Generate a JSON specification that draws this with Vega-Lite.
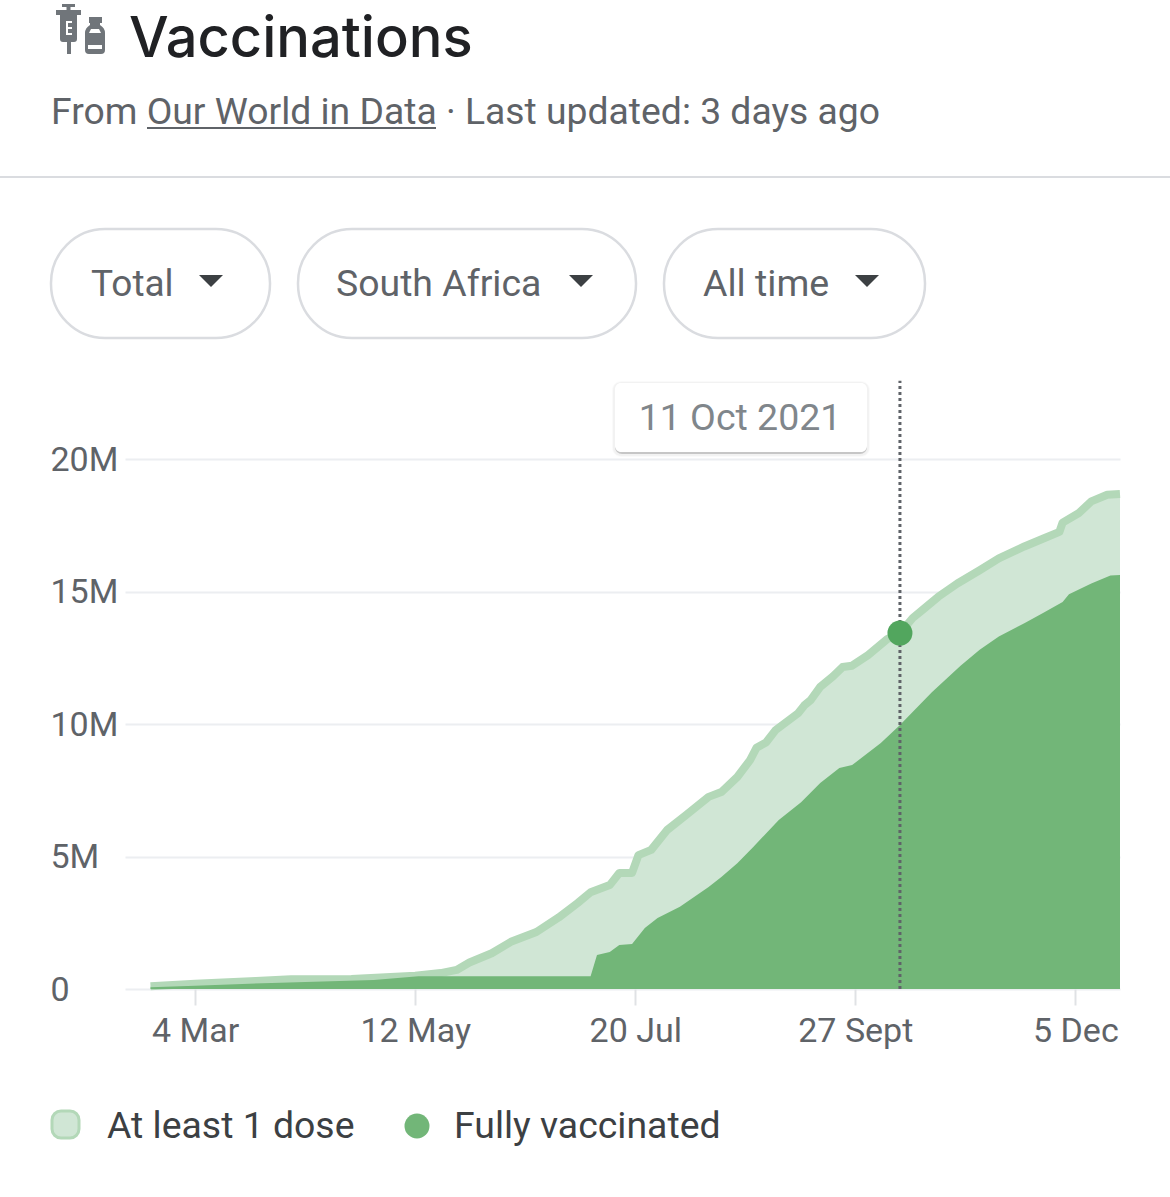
{
  "$schema": "https://vega.github.io/schema/vega-lite/v6.json",
  "width": 995,
  "height": 530,
  "autosize": "none",
  "padding": {"left": 125, "top": 459, "right": 50, "bottom": 208},
  "background": "#ffffff",
  "config": {"view": {"stroke": null}, "text": {"font": "Roboto"}},
  "datasets": {
    "vacc": [
      {"date": "2021-02-18", "series": "At least 1 dose", "people": 100000},
      {"date": "2021-03-04", "series": "At least 1 dose", "people": 200000},
      {"date": "2021-03-23", "series": "At least 1 dose", "people": 300000},
      {"date": "2021-04-03", "series": "At least 1 dose", "people": 370000},
      {"date": "2021-04-22", "series": "At least 1 dose", "people": 380000},
      {"date": "2021-05-12", "series": "At least 1 dose", "people": 500000},
      {"date": "2021-05-20", "series": "At least 1 dose", "people": 600000},
      {"date": "2021-05-25", "series": "At least 1 dose", "people": 720000},
      {"date": "2021-05-29", "series": "At least 1 dose", "people": 1000000},
      {"date": "2021-06-05", "series": "At least 1 dose", "people": 1350000},
      {"date": "2021-06-11", "series": "At least 1 dose", "people": 1780000},
      {"date": "2021-06-19", "series": "At least 1 dose", "people": 2150000},
      {"date": "2021-06-26", "series": "At least 1 dose", "people": 2700000},
      {"date": "2021-07-02", "series": "At least 1 dose", "people": 3250000},
      {"date": "2021-07-06", "series": "At least 1 dose", "people": 3650000},
      {"date": "2021-07-12", "series": "At least 1 dose", "people": 3920000},
      {"date": "2021-07-15", "series": "At least 1 dose", "people": 4380000},
      {"date": "2021-07-19", "series": "At least 1 dose", "people": 4380000},
      {"date": "2021-07-21", "series": "At least 1 dose", "people": 5050000},
      {"date": "2021-07-25", "series": "At least 1 dose", "people": 5250000},
      {"date": "2021-07-30", "series": "At least 1 dose", "people": 6000000},
      {"date": "2021-08-05", "series": "At least 1 dose", "people": 6570000},
      {"date": "2021-08-12", "series": "At least 1 dose", "people": 7250000},
      {"date": "2021-08-16", "series": "At least 1 dose", "people": 7430000},
      {"date": "2021-08-21", "series": "At least 1 dose", "people": 8000000},
      {"date": "2021-08-25", "series": "At least 1 dose", "people": 8640000},
      {"date": "2021-08-27", "series": "At least 1 dose", "people": 9100000},
      {"date": "2021-08-30", "series": "At least 1 dose", "people": 9300000},
      {"date": "2021-09-02", "series": "At least 1 dose", "people": 9770000},
      {"date": "2021-09-09", "series": "At least 1 dose", "people": 10400000},
      {"date": "2021-09-11", "series": "At least 1 dose", "people": 10700000},
      {"date": "2021-09-13", "series": "At least 1 dose", "people": 10900000},
      {"date": "2021-09-16", "series": "At least 1 dose", "people": 11400000},
      {"date": "2021-09-20", "series": "At least 1 dose", "people": 11800000},
      {"date": "2021-09-23", "series": "At least 1 dose", "people": 12150000},
      {"date": "2021-09-26", "series": "At least 1 dose", "people": 12200000},
      {"date": "2021-10-01", "series": "At least 1 dose", "people": 12600000},
      {"date": "2021-10-07", "series": "At least 1 dose", "people": 13200000},
      {"date": "2021-10-11", "series": "At least 1 dose", "people": 13430000},
      {"date": "2021-10-15", "series": "At least 1 dose", "people": 14000000},
      {"date": "2021-10-18", "series": "At least 1 dose", "people": 14300000},
      {"date": "2021-10-23", "series": "At least 1 dose", "people": 14800000},
      {"date": "2021-10-29", "series": "At least 1 dose", "people": 15300000},
      {"date": "2021-11-05", "series": "At least 1 dose", "people": 15800000},
      {"date": "2021-11-11", "series": "At least 1 dose", "people": 16250000},
      {"date": "2021-11-19", "series": "At least 1 dose", "people": 16700000},
      {"date": "2021-11-25", "series": "At least 1 dose", "people": 17000000},
      {"date": "2021-11-30", "series": "At least 1 dose", "people": 17250000},
      {"date": "2021-12-01", "series": "At least 1 dose", "people": 17600000},
      {"date": "2021-12-06", "series": "At least 1 dose", "people": 17950000},
      {"date": "2021-12-10", "series": "At least 1 dose", "people": 18400000},
      {"date": "2021-12-15", "series": "At least 1 dose", "people": 18650000},
      {"date": "2021-12-19", "series": "At least 1 dose", "people": 18680000},
      {"date": "2021-02-18", "series": "Fully vaccinated", "people": 70000},
      {"date": "2021-03-04", "series": "Fully vaccinated", "people": 120000},
      {"date": "2021-03-28", "series": "Fully vaccinated", "people": 230000},
      {"date": "2021-04-29", "series": "Fully vaccinated", "people": 340000},
      {"date": "2021-05-13", "series": "Fully vaccinated", "people": 480000},
      {"date": "2021-07-06", "series": "Fully vaccinated", "people": 480000},
      {"date": "2021-07-08", "series": "Fully vaccinated", "people": 1280000},
      {"date": "2021-07-12", "series": "Fully vaccinated", "people": 1400000},
      {"date": "2021-07-15", "series": "Fully vaccinated", "people": 1660000},
      {"date": "2021-07-19", "series": "Fully vaccinated", "people": 1700000},
      {"date": "2021-07-23", "series": "Fully vaccinated", "people": 2300000},
      {"date": "2021-07-27", "series": "Fully vaccinated", "people": 2680000},
      {"date": "2021-08-03", "series": "Fully vaccinated", "people": 3100000},
      {"date": "2021-08-12", "series": "Fully vaccinated", "people": 3850000},
      {"date": "2021-08-16", "series": "Fully vaccinated", "people": 4230000},
      {"date": "2021-08-21", "series": "Fully vaccinated", "people": 4750000},
      {"date": "2021-08-26", "series": "Fully vaccinated", "people": 5360000},
      {"date": "2021-09-03", "series": "Fully vaccinated", "people": 6380000},
      {"date": "2021-09-10", "series": "Fully vaccinated", "people": 7050000},
      {"date": "2021-09-16", "series": "Fully vaccinated", "people": 7770000},
      {"date": "2021-09-22", "series": "Fully vaccinated", "people": 8340000},
      {"date": "2021-09-26", "series": "Fully vaccinated", "people": 8450000},
      {"date": "2021-10-05", "series": "Fully vaccinated", "people": 9280000},
      {"date": "2021-10-11", "series": "Fully vaccinated", "people": 9960000},
      {"date": "2021-10-21", "series": "Fully vaccinated", "people": 11200000},
      {"date": "2021-10-30", "series": "Fully vaccinated", "people": 12200000},
      {"date": "2021-11-05", "series": "Fully vaccinated", "people": 12800000},
      {"date": "2021-11-11", "series": "Fully vaccinated", "people": 13300000},
      {"date": "2021-11-19", "series": "Fully vaccinated", "people": 13800000},
      {"date": "2021-11-25", "series": "Fully vaccinated", "people": 14200000},
      {"date": "2021-12-01", "series": "Fully vaccinated", "people": 14600000},
      {"date": "2021-12-03", "series": "Fully vaccinated", "people": 14900000},
      {"date": "2021-12-10", "series": "Fully vaccinated", "people": 15300000},
      {"date": "2021-12-16", "series": "Fully vaccinated", "people": 15600000},
      {"date": "2021-12-19", "series": "Fully vaccinated", "people": 15620000}
    ]
  },
  "layer": [
    {
      "data": {"name": "vacc"},
      "transform": [{"filter": "datum.series == 'At least 1 dose'"}],
      "mark": {"type": "area", "color": "#d0e6d5"},
      "encoding": {
        "x": {
          "field": "date",
          "type": "temporal",
          "title": null,
          "scale": {"type": "utc", "domain": ["2021-02-10", "2021-12-19"]},
          "axis": {
            "values": [
              {"year": 2021, "month": 3, "date": 4, "utc": true},
              {"year": 2021, "month": 5, "date": 12, "utc": true},
              {"year": 2021, "month": 7, "date": 20, "utc": true},
              {"year": 2021, "month": 9, "date": 27, "utc": true},
              {"year": 2021, "month": 12, "date": 5, "utc": true}
            ],
            "labelExpr": "replace(utcFormat(datum.value, '%-d %b'), 'Sep', 'Sept')",
            "domain": false,
            "grid": false,
            "ticks": true,
            "tickSize": 16,
            "tickWidth": 2,
            "tickColor": "#e0e2e5",
            "labelFont": "Roboto",
            "labelFontSize": 34,
            "labelColor": "#5f6368",
            "labelPadding": 9,
            "labelOverlap": false,
            "labelFlush": false
          }
        },
        "y": {
          "field": "people",
          "type": "quantitative",
          "title": null,
          "scale": {"domain": [0, 20000000], "nice": false},
          "axis": {
            "values": [0, 5000000, 10000000, 15000000, 20000000],
            "labelExpr": "datum.value == 0 ? '0' : datum.value / 1000000 + 'M'",
            "domain": false,
            "ticks": false,
            "grid": true,
            "gridColor": "#eceef1",
            "gridWidth": 2,
            "labelAlign": "left",
            "labelPadding": 75,
            "labelOffset": 1,
            "labelFont": "Roboto",
            "labelFontSize": 34,
            "labelColor": "#5f6368"
          }
        }
      }
    },
    {
      "data": {"name": "vacc"},
      "transform": [{"filter": "datum.series == 'At least 1 dose'"}],
      "mark": {"type": "line", "color": "#b3d8b8", "strokeWidth": 8, "strokeJoin": "round"},
      "encoding": {
        "x": {"field": "date", "type": "temporal"},
        "y": {"field": "people", "type": "quantitative"}
      }
    },
    {
      "data": {"name": "vacc"},
      "transform": [{"filter": "datum.series == 'Fully vaccinated'"}],
      "mark": {"type": "area", "color": "#72b678"},
      "encoding": {
        "x": {"field": "date", "type": "temporal"},
        "y": {"field": "people", "type": "quantitative"}
      }
    },
    {
      "data": {"values": [{"date": "2021-10-11", "base": 0, "top": 22950000}]},
      "mark": {"type": "rule", "color": "#5f6368", "strokeWidth": 3, "strokeDash": [3, 3]},
      "encoding": {
        "x": {"field": "date", "type": "temporal"},
        "y": {"field": "base", "type": "quantitative"},
        "y2": {"field": "top"}
      }
    },
    {
      "data": {"values": [{"date": "2021-10-11", "people": 13430000}]},
      "mark": {"type": "circle", "size": 625, "color": "#52a65e", "opacity": 1},
      "encoding": {
        "x": {"field": "date", "type": "temporal"},
        "y": {"field": "people", "type": "quantitative"}
      }
    },
    {
      "data": {"values": [{"label": "shadow"}]},
      "mark": {"type": "rect", "x": 487, "x2": 745, "y": -78, "y2": -2, "cornerRadius": 9, "color": "#000000", "opacity": 0.02}
    },
    {
      "data": {"values": [{"label": "shadow"}]},
      "mark": {"type": "rect", "x": 488, "x2": 744, "y": -77, "y2": -3, "cornerRadius": 8, "color": "#000000", "opacity": 0.03}
    },
    {
      "data": {"values": [{"label": "shadow"}]},
      "mark": {"type": "rect", "x": 490, "x2": 742, "y": -70, "y2": -5, "cornerRadius": 7, "color": "#000000", "opacity": 0.18}
    },
    {
      "data": {"values": [{"label": "tooltip"}]},
      "mark": {"type": "rect", "x": 490, "x2": 742, "y": -76, "y2": -7, "cornerRadius": 6, "color": "#ffffff"}
    },
    {
      "data": {"values": [{"label": "11 Oct 2021"}]},
      "mark": {"type": "text", "x": 615, "y": -40, "align": "center", "baseline": "middle", "fontSize": 37.5, "color": "#80868b"},
      "encoding": {"text": {"field": "label"}}
    },
    {
      "data": {"values": [{"label": "icon"}]},
      "mark": {"type": "point", "x": -125, "y": -459, "size": 4, "filled": true, "opacity": 1, "color": "#70757a", "shape": "M62 4H75V7H70.5V10H81V15H77V39Q77 42 74 42H71V54H67V42H63Q60 42 60 39V15H56V10H66.5V7H62ZM89 17H102V23H100V25Q105 28 105 33V50Q105 54 101 54H89Q85 54 85 50V33Q85 28 90 25V23H89Z"}
    },
    {
      "data": {"values": [{"label": "icon cut-outs"}]},
      "mark": {"type": "point", "x": -125, "y": -459, "size": 4, "filled": true, "opacity": 1, "color": "#ffffff", "shape": "M66 21H72V23H68V27H72V29H68V33H72V35H66ZM91 29H99L101 33H89ZM88 45H102V49H88Z"}
    },
    {
      "data": {"values": [{"label": "Vaccinations"}]},
      "mark": {"type": "text", "x": 4, "y": -419, "align": "left", "baseline": "middle", "fontSize": 56, "fontWeight": 500, "font": "Inter", "color": "#202124"},
      "encoding": {"text": {"field": "label"}}
    },
    {
      "data": {"values": [{"label": "From Our World in Data · Last updated: 3 days ago"}]},
      "mark": {"type": "text", "x": -74, "y": -346, "align": "left", "baseline": "middle", "fontSize": 37.3, "color": "#5f6368"},
      "encoding": {"text": {"field": "label"}}
    },
    {
      "data": {"values": [{"label": "link underline"}]},
      "mark": {"type": "rule", "color": "#5f6368", "strokeWidth": 2},
      "encoding": {"x": {"value": 22}, "x2": {"value": 311}, "y": {"value": -331}}
    },
    {
      "data": {"values": [{"label": "divider"}]},
      "mark": {"type": "rule", "color": "#dadce0", "strokeWidth": 2},
      "encoding": {"x": {"value": -125}, "x2": {"value": 1045}, "y": {"value": -282}}
    },
    {
      "data": {"values": [{"label": "chip"}]},
      "mark": {"type": "rect", "x": -74, "x2": 145, "y": -230, "y2": -121, "cornerRadius": 54, "fill": "#ffffff", "stroke": "#dadce0", "strokeWidth": 2.5}
    },
    {
      "data": {"values": [{"label": "chip"}]},
      "mark": {"type": "rect", "x": 173, "x2": 511, "y": -230, "y2": -121, "cornerRadius": 54, "fill": "#ffffff", "stroke": "#dadce0", "strokeWidth": 2.5}
    },
    {
      "data": {"values": [{"label": "chip"}]},
      "mark": {"type": "rect", "x": 539, "x2": 800, "y": -230, "y2": -121, "cornerRadius": 54, "fill": "#ffffff", "stroke": "#dadce0", "strokeWidth": 2.5}
    },
    {
      "data": {"values": [{"label": "Total"}]},
      "mark": {"type": "text", "x": -34, "y": -174, "align": "left", "baseline": "middle", "fontSize": 37, "color": "#5f6368"},
      "encoding": {"text": {"field": "label"}}
    },
    {
      "data": {"values": [{"label": "South Africa"}]},
      "mark": {"type": "text", "x": 211, "y": -174, "align": "left", "baseline": "middle", "fontSize": 37.4, "color": "#5f6368"},
      "encoding": {"text": {"field": "label"}}
    },
    {
      "data": {"values": [{"label": "All time"}]},
      "mark": {"type": "text", "x": 578, "y": -174, "align": "left", "baseline": "middle", "fontSize": 37.5, "color": "#5f6368"},
      "encoding": {"text": {"field": "label"}}
    },
    {
      "data": {"values": [{"label": "caret"}]},
      "mark": {"type": "point", "x": 86, "y": -178, "size": 4, "filled": true, "opacity": 1, "color": "#3c4043", "shape": "M-12 -6H12L0 6Z"}
    },
    {
      "data": {"values": [{"label": "caret"}]},
      "mark": {"type": "point", "x": 456, "y": -178, "size": 4, "filled": true, "opacity": 1, "color": "#3c4043", "shape": "M-12 -6H12L0 6Z"}
    },
    {
      "data": {"values": [{"label": "caret"}]},
      "mark": {"type": "point", "x": 742, "y": -178, "size": 4, "filled": true, "opacity": 1, "color": "#3c4043", "shape": "M-12 -6H12L0 6Z"}
    },
    {
      "data": {"values": [{"label": "legend swatch"}]},
      "mark": {"type": "rect", "x": -73, "x2": -46, "y": 652, "y2": 679, "cornerRadius": 9, "fill": "#d0e6d5", "stroke": "#b3d8b8", "strokeWidth": 3}
    },
    {
      "data": {"values": [{"label": "At least 1 dose"}]},
      "mark": {"type": "text", "x": -18, "y": 668, "align": "left", "baseline": "middle", "fontSize": 37.4, "color": "#3c4043"},
      "encoding": {"text": {"field": "label"}}
    },
    {
      "data": {"values": [{"label": "legend swatch"}]},
      "mark": {"type": "point", "x": 292, "y": 667, "size": 625, "shape": "circle", "filled": true, "opacity": 1, "color": "#72b678"}
    },
    {
      "data": {"values": [{"label": "Fully vaccinated"}]},
      "mark": {"type": "text", "x": 329, "y": 668, "align": "left", "baseline": "middle", "fontSize": 37.4, "color": "#3c4043"},
      "encoding": {"text": {"field": "label"}}
    }
  ]
}
